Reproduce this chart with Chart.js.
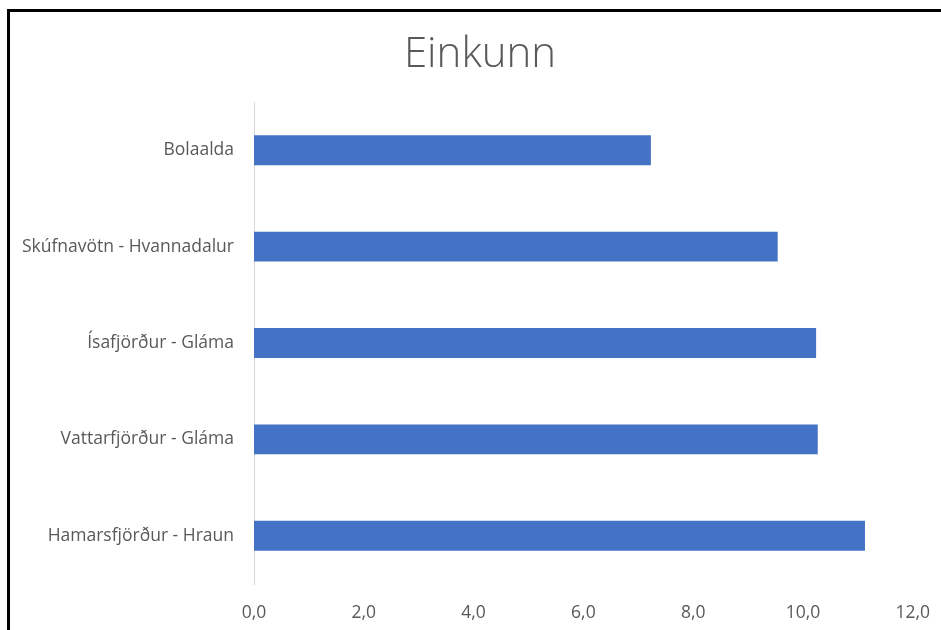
<!DOCTYPE html>
<html>
<head>
<meta charset="utf-8">
<script src="https://cdn.jsdelivr.net/npm/chart.js@4"></script>
<style>
  html, body { margin: 0; padding: 0; background: #fff; overflow: hidden; }
  #wrap { position: relative; width: 941px; height: 630px; }
  #myChart { position: absolute; left: 0; top: 0; }
  #frame {
    position: absolute; left: 7px; top: 9px; width: 960px; height: 660px;
    border-left: 3px solid #000; border-top: 3px solid #000;
    pointer-events: none;
  }
</style>
</head>
<body>
<div id="wrap">
  <canvas id="myChart" width="941" height="630"></canvas>
  <div id="frame"></div>
</div>
<script>
'use strict'

const categories = [
  'Bolaalda',
  'Skúfnavötn - Hvannadalur',
  'Ísafjörður - Gláma',
  'Vattarfjörður - Gláma',
  'Hamarsfjörður - Hraun'
];
const einkunn = [7.23, 9.54, 10.24, 10.27, 11.13];
const tickValues = [0, 2, 4, 6, 8, 10, 12];
const titleText = 'Einkunn';

const textColor = '#595959';
const font = "'Open Sans', sans-serif";

// title sits a bit right of canvas centre, like the original
const titlePlugin = {
  id: 'offsetTitle',
  afterDraw(chart) {
    const c = chart.ctx;
    c.save();
    c.font = "300 42px 'Open Sans', sans-serif";
    c.fillStyle = textColor;
    c.textAlign = 'center';
    c.textBaseline = 'middle';
    c.fillText(titleText, 480, 55);
    c.restore();
  }
};

function createChart() {
  const ctx = document.getElementById('myChart').getContext('2d');

  new Chart(ctx, {
    type: 'bar',
    data: {
      labels: categories,
      datasets: [
        {
          label: titleText,
          data: einkunn,
          backgroundColor: '#4472c4',
          borderWidth: 0,
          barPercentage: 0.31,
          categoryPercentage: 1,
        },
      ],
    },
    options: {
      indexAxis: 'y',
      responsive: false,
      animation: false,
      layout: { padding: { left: 0, right: 19, top: 102, bottom: 0 } },
      plugins: {
        legend: { display: false },
        tooltip: { enabled: false },
        title: { display: false },
      },
      scales: {
        x: {
          min: tickValues[0],
          max: tickValues[tickValues.length - 1],
          afterBuildTicks: (scale) => {
            scale.ticks = tickValues.map(v => ({ value: v }));
          },
          afterFit: (scale) => { scale.height = 46; },
          grid: { display: false },
          border: { display: false },
          ticks: {
            color: textColor,
            padding: 11,
            maxRotation: 0,
            font: { family: font, size: 17.5 },
            callback: (v) => Number(v).toFixed(1).replace('.', ','),
          },
        },
        y: {
          afterFit: (scale) => { scale.width = 254; },
          grid: { display: false },
          border: { display: true, color: '#d9d9d9', width: 1 },
          ticks: {
            color: textColor,
            padding: 12,
            font: { family: font, size: 17.5 },
          },
        },
      },
    },
    plugins: [titlePlugin],
  });
}

createChart();
</script>
</body>
</html>
